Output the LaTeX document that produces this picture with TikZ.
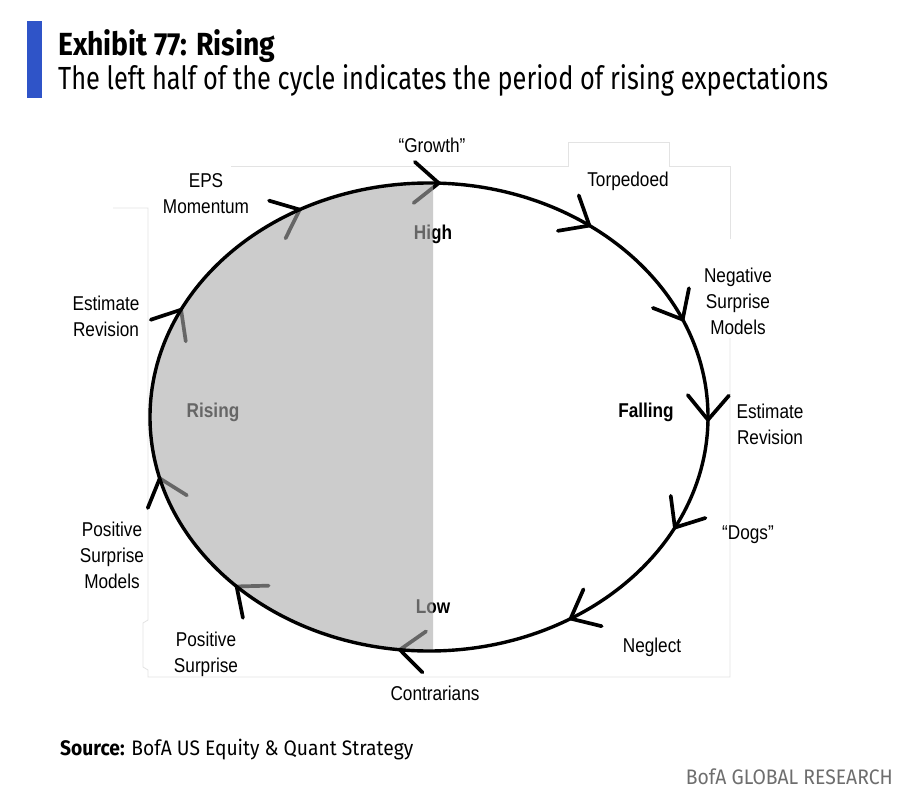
\documentclass[tikz,border=0pt]{standalone}
\usepackage{fontspec}
\usepackage{graphicx}
\setmainfont{Liberation Sans}
\newfontfamily\labfont[FakeStretch=0.86]{Liberation Sans}
\newfontfamily\firafont{Fira Sans}
\usetikzlibrary{calc}
\definecolor{bofablue}{RGB}{47,84,200}
\definecolor{shadegray}{gray}{0.667}
\definecolor{framegray}{gray}{0.89}
\definecolor{footgray}{RGB}{110,110,110}
\begin{document}
\begin{tikzpicture}[x=1pt,y=-1pt,
  lab/.style={font=\labfont\fontsize{20}{26}\selectfont, align=center, inner sep=0pt},
  boldlab/.style={lab, font=\labfont\bfseries\fontsize{20}{26}\selectfont},
  arm/.style={line width=3.7pt, line cap=round, line join=miter},
  ring/.style={line width=3.4pt},
  frameline/.style={draw=framegray, line width=0.8pt}]
\useasboundingbox[fill=white] (0,0) rectangle (915,805);

% header
\fill[bofablue] (27,21) rectangle (42,98);
\node[anchor=base west, inner sep=0pt] (title) at (58,56)
  {\resizebox{217pt}{\height}{\firafont\bfseries\fontsize{32}{36}\selectfont Exhibit 77: Rising}};
\node[anchor=base west, inner sep=0pt] (subtitle) at (58,90)
  {\resizebox{770pt}{\height}{\firafont\fontsize{32}{36}\selectfont The left half of the cycle indicates the period of rising expectations}};

% faint frame of the source picture
\draw[frameline] (113,208) -- (148,208) -- (148,620) -- (143,623) -- (143,667) -- (148,670) -- (148,677) -- (730,677) -- (730,338);
\draw[frameline] (730,239) -- (730,166) -- (669,166) -- (669,142) -- (568,142) -- (568,166) -- (231,166);

% ellipse geometry
\coordinate (O) at (429,417);
\def\rx{279}\def\ry{234}

% labels
\node[lab] (growth) at (432,145) {“Growth”};
\node[lab] (eps) at (206,194) {EPS\\Momentum};
\node[lab] (torp) at (628,181) {Torpedoed};
\node[boldlab] (high) at (433,234) {High};
\node[lab] (negsm) at (738,301) {Negative\\Surprise\\Models};
\node[boldlab] (falling) at (646,412) {Falling};
\node[lab] (estR) at (770,424) {Estimate\\Revision};
\node[lab] (dogs) at (748,535) {“Dogs”};
\node[lab] (neglect) at (652,647) {Neglect};
\node[lab] (contr) at (435,693) {Contrarians};
\node[boldlab] (low) at (433,607) {Low};
\node[lab] (possurp) at (206,654) {Positive\\Surprise};
\node[lab] (possm) at (112,555) {Positive\\Surprise\\Models};
\node[boldlab] (rising) at (213,412) {Rising};
\node[lab] (estL) at (106,316) {Estimate\\Revision};

% arrowheads along the cycle (clockwise on screen)
\foreach \t [count=\i] in {-88,-54.9,-24.6,0.7,28.2,59.5,96,133.6,164.8,207.3,242.4} {
  \pgfmathsetmacro{\ph}{atan2(\ry*cos(\t),-\rx*sin(\t))}
  \coordinate (tip\i) at ($(O)+({\rx*cos(\t)},{\ry*sin(\t)})$);
  \draw[arm] ($(tip\i)+(\ph+180-40:32)$) -- (tip\i) -- ($(tip\i)+(\ph+180+40:32)$);
}

% shaded left half (drawn over arrows and text, translucent)
\begin{scope}
  \clip (0,0) rectangle (433,805);
  \fill[shadegray, opacity=0.6] (O) ellipse [x radius=\rx, y radius=\ry];
\end{scope}

% the cycle
\draw[ring] (O) ellipse [x radius=\rx, y radius=\ry];

% footer
\node[anchor=base west, inner sep=0pt] (source) at (60,755)
  {\resizebox{353pt}{\height}{\firafont\fontsize{21}{24}\selectfont\textbf{Source:} BofA US Equity \& Quant Strategy}};
\node[anchor=base east, inner sep=0pt, text=footgray] (brand) at (893,784)
  {\resizebox{207pt}{\height}{\firafont\fontsize{21}{24}\selectfont BofA GLOBAL RESEARCH}};
\end{tikzpicture}
\end{document}
